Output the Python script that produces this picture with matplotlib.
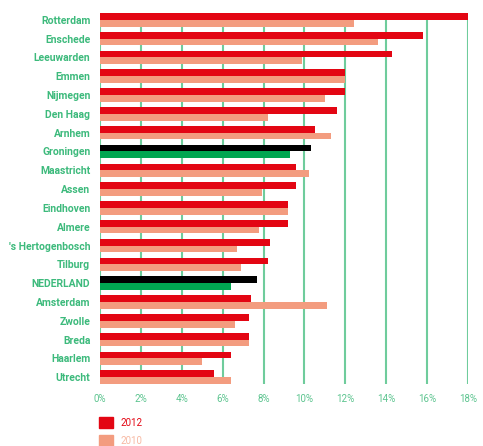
import numpy as np
import matplotlib
matplotlib.use("Agg")
import matplotlib.pyplot as plt

cities = ["Rotterdam", "Enschede", "Leeuwarden", "Emmen", "Nijmegen", "Den Haag",
          "Arnhem", "Groningen", "Maastricht", "Assen", "Eindhoven", "Almere",
          "'s Hertogenbosch", "Tilburg", "NEDERLAND", "Amsterdam", "Zwolle",
          "Breda", "Haarlem", "Utrecht"]
values_2012 = [18.0, 15.8, 14.3, 12.0, 12.0, 11.6, 10.5, 10.3, 9.6, 9.6,
               9.2, 9.2, 8.3, 8.2, 7.7, 7.4, 7.3, 7.3, 6.4, 5.6]
values_2010 = [12.4, 13.6, 9.9, 12.0, 11.0, 8.2, 11.3, 9.3, 10.2, 7.9,
               9.2, 7.8, 6.7, 6.9, 6.4, 11.1, 6.6, 7.3, 5.0, 6.4]
highlight = ["Groningen", "NEDERLAND"]
xticks = [0, 2, 4, 6, 8, 10, 12, 14, 16, 18]

RED = "#e30613"
SALMON = "#f39c7f"
BLACK = "#000000"
GREEN = "#00a651"
TEXT_GREEN = "#3dba7c"
GRID_GREEN = "#6fcc9c"

plt.rcParams["font.family"] = ["Roboto", "DejaVu Sans"]

W, H = 483, 446
fig = plt.figure(figsize=(W / 100, H / 100), dpi=100)
ax = fig.add_axes([100 / W, (H - 384) / H, (468 - 100) / W, (384 - 13) / H])

y = np.arange(len(cities))
bh = 0.36
c12 = [BLACK if c in highlight else RED for c in cities]
c10 = [GREEN if c in highlight else SALMON for c in cities]
b12 = ax.barh(y - bh / 2, values_2012, height=bh, color=c12, zorder=2)
b10 = ax.barh(y + bh / 2, values_2010, height=bh, color=c10, zorder=2)

ax.set_xlim(0, 18)
ax.set_ylim(len(cities) - 1 + bh, -bh)
ax.set_xticks(xticks)
ax.set_xticklabels([f"{t}%" for t in xticks])
ax.set_yticks(y)
ax.set_yticklabels(cities)
for lbl in ax.get_yticklabels():
    lbl.set_fontweight("bold")
ax.tick_params(axis="y", length=0, pad=7, labelsize=7.5, labelcolor=TEXT_GREEN)
ax.tick_params(axis="x", length=0, pad=7, labelsize=7, labelcolor="#5cc48f")

for t in xticks:
    ax.axvline(t, color=GRID_GREEN, lw=1.5, zorder=1)
for s in ax.spines.values():
    s.set_visible(False)

leg = ax.legend([b12[0], b10[0]], ["2012", "2010"],
                loc="upper left", bbox_to_anchor=(99 / W, (H - 417) / H),
                bbox_transform=fig.transFigure, frameon=False, fontsize=7,
                handlelength=1.45, handleheight=1.35, handletextpad=0.8,
                labelspacing=0.75, borderpad=0, borderaxespad=0)
leg.legend_handles[0].set_color(RED)
leg.legend_handles[1].set_color(SALMON)
leg.get_texts()[0].set_color(RED)
leg.get_texts()[1].set_color("#f7b9a3")

fig.savefig("out.png", dpi=100)
